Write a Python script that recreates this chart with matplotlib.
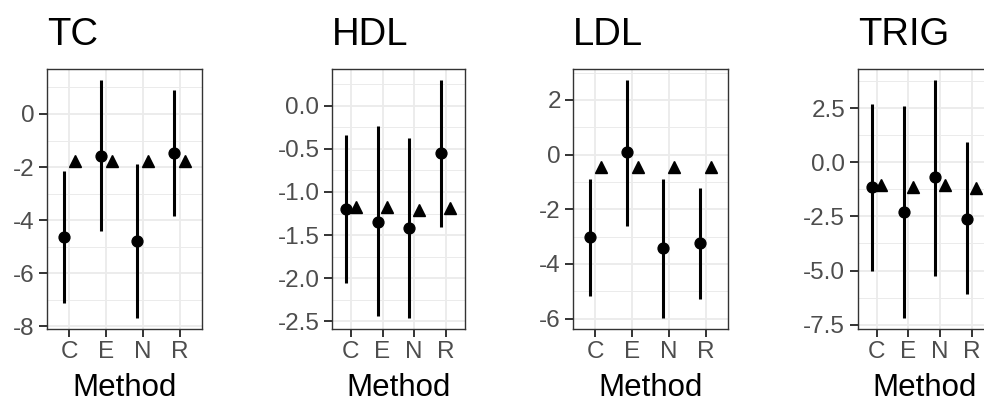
import matplotlib
matplotlib.use("Agg")
import matplotlib.pyplot as plt
import numpy as np
from matplotlib.ticker import MultipleLocator, FormatStrFormatter

plt.rcParams['font.family'] = ['Liberation Sans', 'DejaVu Sans']
plt.rcParams['axes.unicode_minus'] = False

methods = ["C", "E", "N", "R"]
panels = ["TC", "HDL", "LDL", "TRIG"]

# circle estimate with interval, triangle estimate
est = {
    "TC": [-4.62, -1.58, -4.77, -1.48],
    "HDL": [-1.20, -1.35, -1.42, -0.55],
    "LDL": [-3.02, 0.09, -3.43, -3.23],
    "TRIG": [-1.16, -2.30, -0.68, -2.61],
}
lower = {
    "TC": [-7.10, -4.41, -7.68, -3.84],
    "HDL": [-2.06, -2.44, -2.46, -1.41],
    "LDL": [-5.18, -2.60, -5.98, -5.27],
    "TRIG": [-5.04, -7.19, -5.24, -6.08],
}
upper = {
    "TC": [-2.15, 1.29, -1.89, 0.89],
    "HDL": [-0.34, -0.24, -0.38, 0.30],
    "LDL": [-0.88, 2.74, -0.91, -1.22],
    "TRIG": [2.70, 2.58, 3.81, 0.92],
}
tri = {
    "TC": [-1.78, -1.76, -1.78, -1.78],
    "HDL": [-1.18, -1.17, -1.21, -1.19],
    "LDL": [-0.45, -0.45, -0.45, -0.45],
    "TRIG": [-1.04, -1.15, -1.05, -1.19],
}
major_step = {"TC": 2, "HDL": 0.5, "LDL": 2, "TRIG": 2.5}
fmt = {"TC": "%d", "HDL": "%.1f", "LDL": "%d", "TRIG": "%.1f"}

W, H = 984, 401
# panel boxes in pixels: left, width
boxes = {"TC": (47, 155), "HDL": (332, 132.6), "LDL": (573.3, 154.5), "TRIG": (857.7, 133)}
top_px, bot_px = 69, 328.7

fig = plt.figure(figsize=(W / 100, H / 100), dpi=100)
x = np.arange(len(methods))
dodge = 0.15
tick_col = "#4D4D4D"
dark = "#333333"

for p in panels:
    left, wid = boxes[p]
    ax = fig.add_axes([left / W, 1 - bot_px / H, wid / W, (bot_px - top_px) / H])
    lo, hi = min(lower[p]), max(upper[p])
    r = hi - lo
    ax.set_ylim(lo - 0.045 * r, hi + 0.045 * r)
    ax.set_xlim(-0.6, len(methods) - 0.4)

    ax.vlines(x - dodge, lower[p], upper[p], color="black", lw=2.2, zorder=3)
    ax.plot(x - dodge, est[p], "o", color="black", ms=7.8, zorder=4)
    ax.plot(x + dodge, tri[p], "^", color="black", ms=9, zorder=4)

    ax.set_xticks(x)
    ax.set_xticklabels(methods)
    ax.yaxis.set_major_locator(MultipleLocator(major_step[p]))
    ax.yaxis.set_minor_locator(MultipleLocator(major_step[p] / 2))
    ax.yaxis.set_major_formatter(FormatStrFormatter(fmt[p]))
    ax.grid(which="major", color="#EBEBEB", lw=1.3, zorder=0)
    ax.grid(which="minor", axis="y", color="#EBEBEB", lw=0.7, zorder=0)
    ax.set_axisbelow(True)
    ax.tick_params(which="major", length=5.5, width=1.4, color=dark,
                   labelsize=17.5, labelcolor=tick_col, pad=3.5)
    ax.tick_params(which="minor", length=0)
    for s in ax.spines.values():
        s.set_color(dark)
        s.set_linewidth(1.0)

    fig.text(left / W, 1 - 45 / H, p, fontsize=27.5, va="baseline", ha="left")
    fig.text((left + wid / 2) / W, 1 - 396 / H, "Method", fontsize=22.5,
             va="baseline", ha="center")

fig.savefig("out.png", dpi=100)
